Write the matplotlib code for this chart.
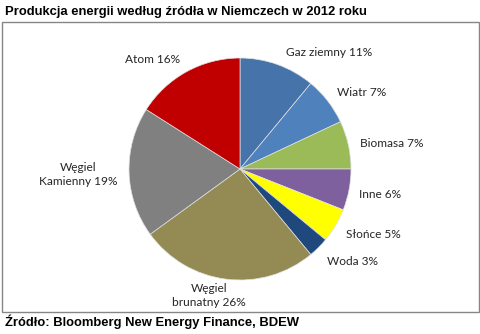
import matplotlib.pyplot as plt
from matplotlib.patches import Rectangle

# data, clockwise from 12 o'clock
sources = ['Gaz ziemny', 'Wiatr', 'Biomasa', 'Inne', 'Słońce', 'Woda',
           'Węgiel\nbrunatny', 'Węgiel\nKamienny', 'Atom']
shares = [11, 7, 7, 6, 5, 3, 26, 19, 16]
colors = ['#4674AA', '#4F81BD', '#9BBB59', '#7F609F', '#FFFF00', '#1F497D',
          '#948A54', '#808080', '#C00000']

# label positions (pie radius = 1)
label_pos = [(0.80, 1.05), (1.10, 0.69), (1.37, 0.23), (1.26, -0.23),
             (1.20, -0.59), (1.01, -0.83), (-0.28, -1.14), (-1.46, -0.05),
             (-0.79, 0.99)]

W, H = 481, 334
fig = plt.figure(figsize=(W / 100, H / 100), dpi=100)

# chart border
fig.patches.append(Rectangle((2 / W, 1 - 312 / H), 477 / W, 290 / H,
                             transform=fig.transFigure, fill=False,
                             edgecolor='#868686', linewidth=1))

cx, cy, r = 240, 169, 111
ax = fig.add_axes([(cx - r) / W, (H - cy - r) / H, 2 * r / W, 2 * r / H])
ax.pie(shares, colors=colors, startangle=90, counterclock=False,
       wedgeprops=dict(edgecolor='#e0e0e0', linewidth=0.5))
ax.set_xlim(-1, 1)
ax.set_ylim(-1, 1)
ax.set_aspect('equal')
ax.axis('off')

for name, val, (x, y) in zip(sources, shares, label_pos):
    ax.text(x, y, f'{name} {val}%', ha='center', va='center',
            fontsize=8.6, family='Lato', color='#262626',
            linespacing=1.3, clip_on=False)

fig.text(5 / W, 1 - 12 / H, 'Produkcja energii według źródła w Niemczech w 2012 roku',
         ha='left', va='center', fontsize=9.4, fontweight='bold',
         family='Liberation Sans')
fig.text(5 / W, 1 - 322 / H, 'Źródło: Bloomberg New Energy Finance, BDEW',
         ha='left', va='center', fontsize=9.4, fontweight='bold',
         family='Liberation Sans')

fig.savefig('out.png', dpi=100)
